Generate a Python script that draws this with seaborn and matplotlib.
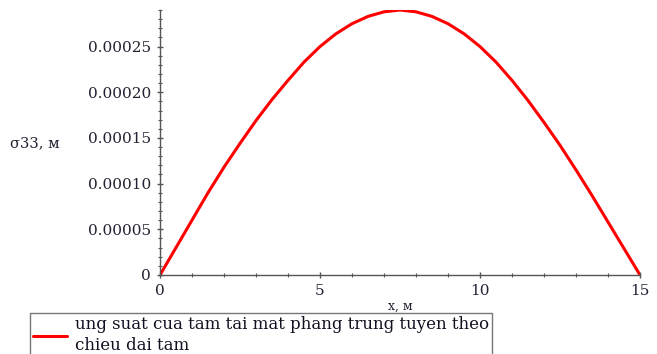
import matplotlib
matplotlib.use("Agg")
import matplotlib.pyplot as plt
import seaborn as sns
import pandas as pd
from matplotlib.ticker import MultipleLocator

# data (x in m, sigma33 value)
x_vals = [0, 0.5, 1, 1.5, 2, 2.5, 3, 3.5, 4, 4.5, 5, 5.5, 6, 6.5, 7, 7.5,
          8, 8.5, 9, 9.5, 10, 10.5, 11, 11.5, 12, 12.5, 13, 13.5, 14, 14.5, 15]
sigma_vals = [0.0, 0.000030, 0.000060, 0.000090, 0.000118, 0.000144,
              0.000169, 0.000192, 0.000213, 0.000233, 0.000250, 0.000264,
              0.000275, 0.000283, 0.000288, 0.000290, 0.000288, 0.000283,
              0.000275, 0.000264, 0.000250, 0.000233, 0.000213, 0.000191,
              0.000167, 0.000142, 0.000115, 0.000087, 0.000058, 0.000029, 0.0]
x_ticks = [0, 5, 10, 15]
y_ticks = [0, 0.00005, 0.0001, 0.00015, 0.0002, 0.00025]
y_tick_labels = ["0", "0.00005", "0.00010", "0.00015", "0.00020", "0.00025"]
legend_label = "ung suat cua tam tai mat phang trung tuyen theo\nchieu dai tam"

df = pd.DataFrame({"x": x_vals, "s": sigma_vals})

sns.set_style("white")
plt.rcParams["font.family"] = ["DejaVu Serif"]

fig = plt.figure(figsize=(6.57, 3.54), dpi=100)
ax = fig.add_axes([160/657, 1 - 275/354, 480/657, 265/354])

sns.lineplot(data=df, x="x", y="s", ax=ax, color="#ff0000", linewidth=2.2,
             label=legend_label)

ax.set_xlim(0, 15)
ax.set_ylim(0, 0.00029)
ax.set_xticks(x_ticks)
ax.set_yticks(y_ticks)
ax.set_yticklabels(y_tick_labels)
ax.xaxis.set_minor_locator(MultipleLocator(1))
ax.yaxis.set_minor_locator(MultipleLocator(0.00001))
for s in ["top", "right"]:
    ax.spines[s].set_visible(False)
for s in ["left", "bottom"]:
    ax.spines[s].set_color("#555555")
    ax.spines[s].set_linewidth(1.0)
ax.tick_params(axis="x", which="both", bottom=True, top=False)
ax.tick_params(axis="y", which="both", left=True, right=False)
ax.tick_params(axis="both", which="major", direction="inout", length=5,
               width=1, color="#555555", labelsize=11, labelcolor="#222233", pad=4)
ax.tick_params(axis="both", which="minor", direction="inout", length=3,
               width=0.8, color="#555555")

ax.set_xlabel("x, м", fontsize=9, color="#222233", labelpad=1)
ax.set_ylabel("σ33, м", fontsize=10.5, color="#222233", rotation=0,
              ha="left", va="center")
ax.yaxis.set_label_coords(-0.3125, 0.498)

leg = ax.legend(loc="upper left", bbox_to_anchor=(30/657, 1 - 313/354),
                bbox_transform=fig.transFigure, frameon=True, fancybox=False,
                fontsize=12, handlelength=2.0, borderpad=0.2, labelspacing=0.1,
                handletextpad=0.5, borderaxespad=0)
leg.get_frame().set_edgecolor("#555555")
leg.get_frame().set_linewidth(1.0)
for t in leg.get_texts():
    t.set_color("#111122")
    t.set_linespacing(1.3)

fig.savefig("out.png", dpi=100)
